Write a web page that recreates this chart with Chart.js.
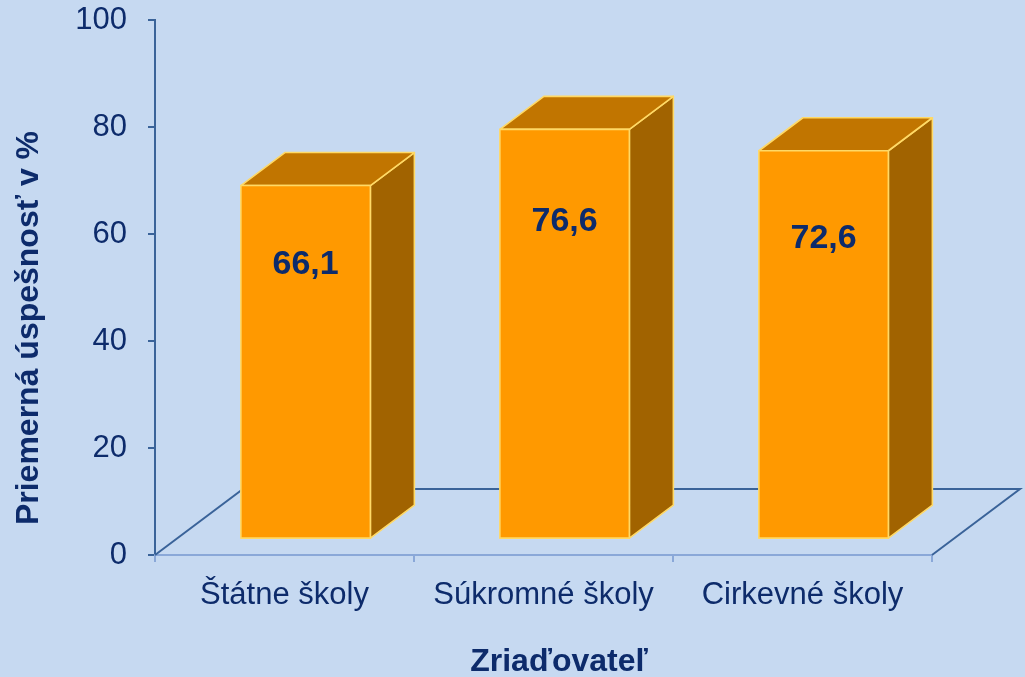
<!DOCTYPE html>
<html><head><meta charset="utf-8">
<script src="https://cdn.jsdelivr.net/npm/chart.js@4/dist/chart.umd.min.js"></script>
<style>html,body{margin:0;padding:0;background:#C6D9F1;overflow:hidden}#wrap{width:1025px;height:677px}</style>
</head><body><div id="wrap"><canvas id="c" width="1025" height="677"></canvas></div>
<script>
const categories = ['Štátne školy', 'Súkromné školy', 'Cirkevné školy'];
const values = [66.1, 76.6, 72.6];
const valueLabels = ['66,1', '76,6', '72,6'];
const yTicks = [0, 20, 40, 60, 80, 100];
const yTitle = 'Priemerná úspešnosť v %';
const xTitle = 'Zriaďovateľ';

const FONT = '"Liberation Sans", Arial, sans-serif';
const TEXT = '#0D2B6B';
const DEPTH = {x: 88, y: -66};   // floor depth vector
const F0 = 0.24, F1 = 0.74;      // bar front / back depth fraction

function poly(ctx, pts, fill, stroke) {
  ctx.beginPath();
  ctx.moveTo(pts[0][0], pts[0][1]);
  for (let i = 1; i < pts.length; i++) ctx.lineTo(pts[i][0], pts[i][1]);
  ctx.closePath();
  ctx.fillStyle = fill; ctx.fill();
  ctx.strokeStyle = stroke; ctx.lineWidth = 1.6; ctx.lineJoin = 'round'; ctx.stroke();
}

const box3d = {
  id: 'box3d',
  beforeDatasetsDraw(chart) {
    const {ctx, chartArea: a} = chart;
    ctx.save();
    ctx.strokeStyle = '#3A6399'; ctx.lineWidth = 2;
    ctx.beginPath();
    ctx.moveTo(a.left, a.bottom);
    ctx.lineTo(a.left + DEPTH.x, a.bottom + DEPTH.y);
    ctx.lineTo(a.right + DEPTH.x, a.bottom + DEPTH.y);
    ctx.lineTo(a.right, a.bottom);
    ctx.stroke();
    ctx.restore();
  },
  afterDatasetsDraw(chart) {
    const {ctx} = chart;
    const yS = chart.scales.y;
    const meta = chart.getDatasetMeta(0);
    const fx = DEPTH.x * F0, fy = DEPTH.y * F0;
    const dx = DEPTH.x * (F1 - F0), dy = DEPTH.y * (F1 - F0);
    ctx.save();
    meta.data.forEach((bar, i) => {
      const hw = bar.width / 2;
      const L = bar.x - hw + fx, R = bar.x + hw + fx, T = bar.y + fy, B = bar.base + fy;
      const edge = '#FFD966';
      poly(ctx, [[R, T], [R + dx, T + dy], [R + dx, B + dy], [R, B]], '#A16300', edge);
      poly(ctx, [[L, T], [L + dx, T + dy], [R + dx, T + dy], [R, T]], '#C17500', edge);
      poly(ctx, [[L, T], [R, T], [R, B], [L, B]], '#FF9900', edge);
      ctx.fillStyle = TEXT;
      ctx.font = 'bold 34px ' + FONT;
      ctx.textAlign = 'center'; ctx.textBaseline = 'middle';
      ctx.fillText(valueLabels[i], (L + R) / 2, yS.getPixelForValue(values[i] * 0.775) + fy);
    });
    ctx.restore();
  },
  afterDraw(chart) {
    const {ctx} = chart;
    ctx.save();
    ctx.fillStyle = TEXT;
    ctx.font = 'bold 32px ' + FONT;
    ctx.textAlign = 'center'; ctx.textBaseline = 'middle';
    ctx.fillText(xTitle, 559, 662);
    ctx.translate(29, 328);
    ctx.rotate(-Math.PI / 2);
    ctx.fillText(yTitle, 0, 0);
    ctx.restore();
  }
};

new Chart(document.getElementById('c'), {
  type: 'bar',
  data: {
    labels: categories,
    datasets: [{
      data: values,
      backgroundColor: 'rgba(0,0,0,0)',
      borderWidth: 0,
      barPercentage: 1,
      categoryPercentage: 0.5
    }]
  },
  options: {
    responsive: false,
    animation: false,
    layout: {padding: {top: 0, right: 93, left: 0, bottom: 0}},
    plugins: {legend: {display: false}, tooltip: {enabled: false}},
    scales: {
      y: {
        min: 0, max: 100,
        afterFit(s) { s.width = 155; s.paddingTop = 20; s.paddingBottom = 0; },
        afterBuildTicks(s) { s.ticks = yTicks.map(v => ({value: v})); },
        ticks: {font: {size: 31, family: FONT}, color: TEXT, padding: 21},
        grid: {drawOnChartArea: false, drawTicks: true, tickLength: 7, color: '#3A6399', lineWidth: 2},
        border: {display: true, color: '#3A6399', width: 2}
      },
      x: {
        afterFit(s) { s.height = 122; },
        ticks: {font: {size: 31, family: FONT}, color: TEXT, padding: 15},
        grid: {drawOnChartArea: false, drawTicks: true, tickLength: 7, color: '#8AA8D8', lineWidth: 2, offset: true},
        border: {display: true, color: '#8AA8D8', width: 2}
      }
    }
  },
  plugins: [box3d]
});
</script></body></html>
